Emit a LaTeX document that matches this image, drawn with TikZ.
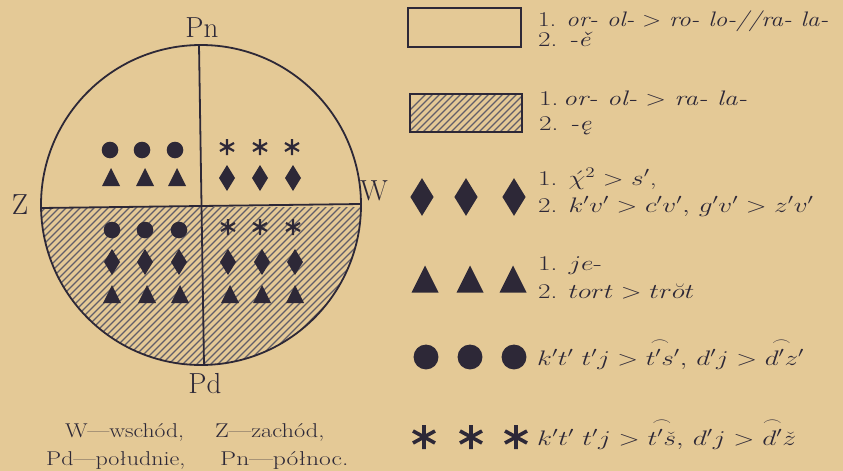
\RequirePackage{fix-cm}
\documentclass[tikz,border=0pt]{standalone}
\usepackage{graphicx}
\usepackage{amsmath}
\definecolor{paper}{RGB}{228,201,150}
\definecolor{ink}{RGB}{45,40,55}
\newcommand{\legwide}[2][1.3]{\scalebox{#1}[1]{#2}}
\tikzset{
  symdot/.pic={\fill[ink] (0,0) circle (8.3);},
  symtri/.pic={\fill[ink] (-9,9) -- (9,9) -- (0,-9) -- cycle;},
  symdia/.pic={\fill[ink] (0,-13) -- (8,0) -- (0,13) -- (-8,0) -- cycle;},
  symstar/.pic={\draw[ink,line width=2.2pt] (0,-8) -- (0,8) (-7,-4) -- (7,4) (-7,4) -- (7,-4);},
  bigstar/.pic={\draw[ink,line width=3.6pt] (0,-12) -- (0,12) (-11,-6) -- (11,6) (-11,6) -- (11,-6);},
  legtext/.style={anchor=base west,inner sep=0pt,text=ink,font=\fontsize{21}{24}\selectfont},
  maplabel/.style={inner sep=0pt,text=ink,font=\fontsize{29}{32}\selectfont},
  captext/.style={anchor=base west,inner sep=0pt,text=ink,font=\fontsize{20}{24}\selectfont},
  hatchline/.style={ink!75,line width=1.3pt}
}
\begin{document}
\begin{tikzpicture}[x=1pt,y=-1pt]
\fill[paper] (0,0) rectangle (843,471);
\useasboundingbox (0,0) rectangle (843,471);
% map
\coordinate (c) at (201,205);
\begin{scope}
  \clip (c) circle (160);
  \clip (0,207) rectangle (400,400);
  \foreach \k in {-260,-253,...,420} \draw[hatchline] (\k,380) -- ++(200,-200);
\end{scope}
\draw[ink,line width=1.8pt] (c) circle (160);
\coordinate (top) at (199,45);
\coordinate (bot) at (204,365);
\coordinate (lft) at (41,208);
\coordinate (rgt) at (361,204);
\draw[ink,line width=1.8pt] (top) -- (bot);
\draw[ink,line width=1.8pt] (lft) -- (rgt);
\node[maplabel,anchor=base] (pn) at (202,37) {Pn};
\node[maplabel,anchor=base] (pd) at (205,393) {Pd};
\node[maplabel,anchor=base] (z) at (20,214) {Z};
\node[maplabel,anchor=base] (w) at (374,200) {W};
% top-left
\foreach \x in {110,142,175} \pic at (\x,150) {symdot};
\foreach \x in {111,145,177} \pic at (\x,177) {symtri};
% top-right
\foreach \x in {227,260,292} \pic at (\x,147) {symstar};
\foreach \x in {227,260,293} \pic at (\x,178) {symdia};
% bottom-left
\foreach \x in {112,145,179} \pic at (\x,230) {symdot};
\foreach \x in {112,145,179} \pic at (\x,262) {symdia};
\foreach \x in {112,147,180} \pic at (\x,294) {symtri};
% bottom-right
\foreach \x in {228,260,293} \pic at (\x,227) {symstar};
\foreach \x in {228,262,295} \pic at (\x,262) {symdia};
\foreach \x in {230,262,295} \pic at (\x,294) {symtri};
% caption
\node[captext] (cap1a) at (65,437) {\legwide[1.18]{W---wschód,}};
\node[captext] (cap1b) at (215,437) {\legwide[1.22]{Z---zachód,}};
\node[captext] (cap2a) at (46,465) {\legwide[1.2]{Pd---południe,}};
\node[captext] (cap2b) at (220,465) {\legwide[1.28]{Pn---północ.}};
% legend
\draw[ink,line width=2.2pt] (408,8) rectangle (521,47);
\node[legtext] (l1a) at (538,26) {\legwide[1.2]{1. \textit{or- ol-} $>$ \textit{ro- lo-//ra- la-}}};
\node[legtext] (l1b) at (538,46) {\legwide{2. \textit{-ě}}};
\begin{scope}
  \clip (410,94) rectangle (522,132);
  \foreach \k in {380,387,...,540} \draw[hatchline] (\k,140) -- ++(60,-60);
\end{scope}
\draw[ink,line width=2.2pt] (410,94) rectangle (522,132);
\node[legtext] (l2a) at (539,105) {\legwide{1.\,\textit{or- ol-} $>$ \textit{ra- la-}}};
\node[legtext] (l2b) at (539,130) {\legwide{2. \textit{-ę}}};
\foreach \x in {422,466,514} \pic[scale=1.45] at (\x,197) {symdia};
\node[legtext] (l3a) at (538,185) {\legwide{1. $\acute{\chi}^{2}>s'$,}};
\node[legtext] (l3b) at (538,212) {\legwide{2. $k'v'>c'v',\,g'v'>z'v'$}};
\foreach \x in {425,470,513} \pic[scale=1.5] at (\x,279) {symtri};
\node[legtext] (l4a) at (538,270) {\legwide{1. $je$-}};
\node[legtext] (l4b) at (538,298) {\legwide{2. $tort>tr\breve{o}t$}};
\foreach \x in {426,470,514} \pic[scale=1.5] at (\x,357) {symdot};
\node[legtext] (l5) at (537,365) {\legwide[1.3]{$k't'\ t'j>\smash{\overset{\frown}{t's}}',\,d'j>\smash{\overset{\frown}{d'z}}'$}};
\foreach \x in {424,471,516} \pic at (\x,437) {bigstar};
\node[legtext] (l6) at (537,445) {\legwide[1.32]{$k't'\ t'j>\smash{\overset{\frown}{t'\check{s}}},\,d'j>\smash{\overset{\frown}{d'}}\check{z}$}};
\end{tikzpicture}
\end{document}
